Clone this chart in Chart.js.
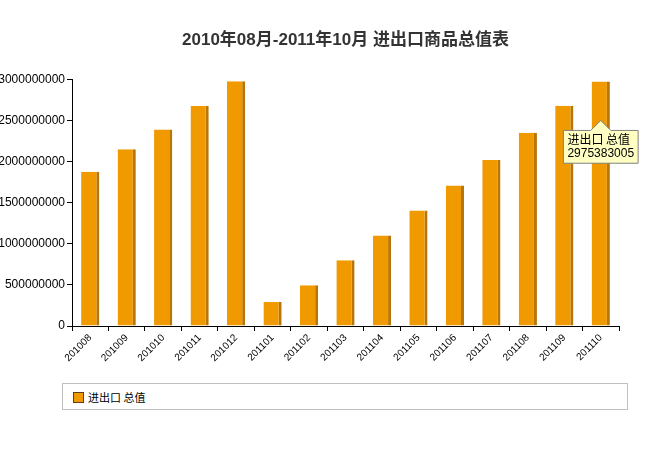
<!DOCTYPE html>
<html>
<head>
<meta charset="utf-8">
<script src="https://cdn.jsdelivr.net/npm/chart.js@4"></script>
<style>
  body { margin: 0; background: #fff; font-family: "Liberation Sans", Arial, sans-serif; }
  #wrap { position: relative; width: 645px; height: 375px; }
  #legend {
    position: absolute; left: 62px; top: 383px; width: 566px; height: 27px;
    border: 1px solid #c0c0c0; box-sizing: border-box; font-size: 11px; color: #000;
    font-family: "Noto Sans CJK SC", "Liberation Sans", sans-serif;
  }
  #legend .sw {
    position: absolute; left: 10px; top: 8px; width: 9px; height: 9px;
    background: #f09a00; border: 1px solid #5a4020;
  }
  #legend .txt { position: absolute; left: 25px; top: 5px; }
</style>
</head>
<body>
<div id="wrap"><canvas id="tradeChart"></canvas></div>
<div id="legend"><span class="sw"></span><span class="txt">进出口 总值</span></div>
<script>
const months = ['201008', '201009', '201010', '201011', '201012', '201101', '201102', '201103',
    '201104', '201105', '201106', '201107', '201108', '201109', '201110'];
const totals = [1876000000, 2149000000, 2392000000, 2676000000, 2977000000, 292000000, 496000000,
    800000000, 1100000000, 1405000000, 1710000000, 2020000000, 2350000000, 2680000000, 2975383005];
const yTicks = [0, 500000000, 1000000000, 1500000000, 2000000000, 2500000000, 3000000000];

// tooltip sits a bit below the bar top, like the mouse hover in the original
Chart.Tooltip.positioners.belowTop = function (items) {
    if (!items.length) return false;
    const el = items[0].element;
    return { x: el.x, y: el.y + 37 };
};

const ctx = document.getElementById('tradeChart');
const chart = new Chart(ctx, {
    type: 'bar',
    data: {
        labels: months,
        datasets: [{
            label: '进出口 总值',
            data: totals,
            backgroundColor: '#f09a00',
            borderColor: '#b87508',
            borderWidth: { top: 0, right: 3, bottom: 0, left: 0 },
            borderSkipped: false,
            barPercentage: 0.5,
            categoryPercentage: 1
        }]
    },
    options: {
        responsive: true,
        maintainAspectRatio: false,
        animation: false,
        events: [],
        layout: { padding: { left: 0, right: 26, top: 0, bottom: 0 } },
        plugins: {
            legend: { display: false },
            title: {
                display: true,
                fullSize: false,
                text: '2010年08月-2011年10月 进出口商品总值表',
                color: '#333',
                font: { family: '"Liberation Sans", "Noto Sans CJK SC", sans-serif', size: 17, weight: 'bold' },
                padding: { top: 30, bottom: 29 }
            },
            tooltip: {
                enabled: true,
                position: 'belowTop',
                yAlign: 'top',
                xAlign: 'center',
                backgroundColor: '#ffffc4',
                borderColor: '#808080',
                borderWidth: 1,
                titleColor: '#000',
                bodyColor: '#000',
                titleFont: { family: '"Noto Sans CJK SC", sans-serif', size: 12, weight: 'normal' },
                bodyFont: { family: '"Liberation Sans", sans-serif', size: 12 },
                titleMarginBottom: 0,
                padding: { top: 2, bottom: 2, left: 4, right: 4 },
                caretSize: 10,
                cornerRadius: 0,
                displayColors: false,
                callbacks: {
                    title: items => items[0].dataset.label,
                    label: item => String(item.raw)
                }
            }
        },
        scales: {
            x: {
                grid: { drawOnChartArea: false, tickLength: 5, color: '#000' },
                border: { color: '#000' },
                ticks: {
                    color: '#000',
                    minRotation: 45,
                    maxRotation: 45,
                    padding: 1,
                    font: { family: '"Liberation Sans", Arial, sans-serif', size: 10 }
                },
                afterFit: s => { s.height = 49; }
            },
            y: {
                min: 0,
                max: 3000000000,
                afterBuildTicks: s => { s.ticks = yTicks.map(v => ({ value: v })); },
                grid: { drawOnChartArea: false, tickLength: 5, color: '#000' },
                border: { color: '#000' },
                ticks: {
                    color: '#000',
                    padding: 2,
                    font: { family: '"Liberation Sans", Arial, sans-serif', size: 12 },
                    callback: v => String(v)
                },
                afterFit: s => { s.width = 72; }
            }
        }
    }
});

chart.tooltip.setActiveElements([{ datasetIndex: 0, index: totals.length - 1 }], { x: 0, y: 0 });
chart.update();
</script>
</body>
</html>
